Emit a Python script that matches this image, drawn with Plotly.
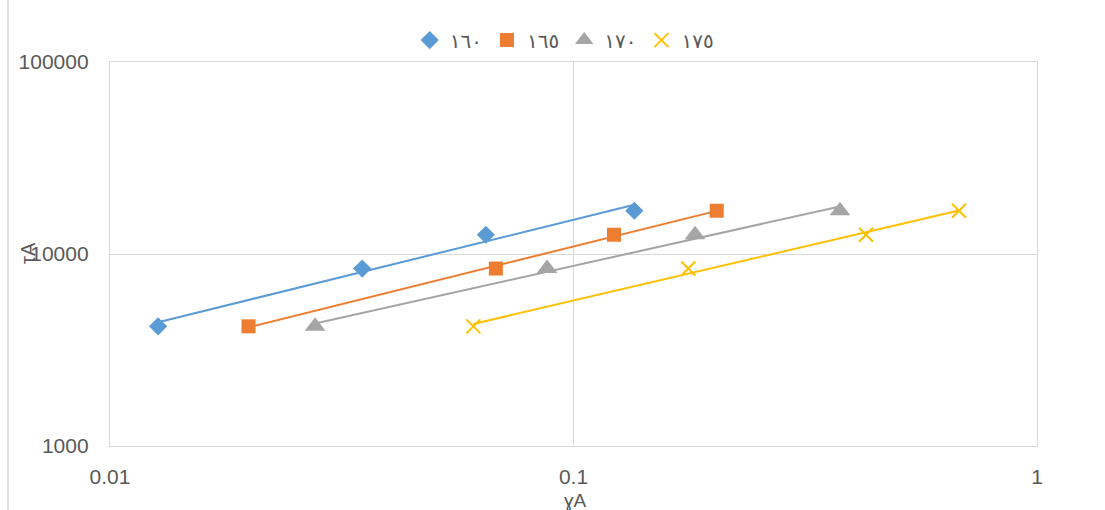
import numpy as np
import plotly.graph_objects as go

# Shear rate (γA) and shear stress (τA) for each temperature series
series_names = ["١٦٠", "١٦٥", "١٧٠", "١٧٥"]
tau_a = [4200, 8400, 12600, 16800]
gamma_160 = [0.0127, 0.0350, 0.0647, 0.1353]
gamma_165 = [0.0199, 0.0680, 0.1223, 0.2037]
gamma_170 = [0.0277, 0.0877, 0.1829, 0.3758]
gamma_175 = [0.0608, 0.1769, 0.4277, 0.6787]

x_ticks = [0.01, 0.1, 1]
x_tick_text = ["0.01", "0.1", "1"]
y_ticks = [1000, 10000, 100000]
y_tick_text = ["1000", "10000", "100000"]

colors = ["#5B9BD5", "#ED7D31", "#A5A5A5", "#FFC000"]
symbols = ["diamond", "square", "triangle-up", "x-thin-open"]
sizes = [14, 14, 18, 14]
gammas = [gamma_160, gamma_165, gamma_170, gamma_175]

fig = go.Figure()

for name, gx, col in zip(series_names, gammas, colors):
    # power-law trendline: straight fit in log-log space
    lx, ly = np.log10(gx), np.log10(tau_a)
    slope, icpt = np.polyfit(lx, ly, 1)
    xs = np.array([min(gx), max(gx)])
    ys = 10 ** (icpt + slope * np.log10(xs))
    fig.add_trace(go.Scatter(
        x=xs, y=ys, mode="lines", showlegend=False, hoverinfo="skip",
        line=dict(color=col, width=2),
    ))

for name, gx, col, sym, sz in zip(series_names, gammas, colors, symbols, sizes):
    marker = dict(symbol=sym, size=sz, color=col)
    if sym == "x-thin-open":
        marker["line"] = dict(color=col, width=2)
    fig.add_trace(go.Scatter(
        x=gx, y=tau_a, mode="markers", name=name, marker=marker,
    ))

font_col = "#595959"
fig.update_layout(
    width=1105, height=510,
    margin=dict(l=110, r=68, t=62, b=64),
    paper_bgcolor="white", plot_bgcolor="white",
    font=dict(family="DejaVu Sans, Liberation Sans", color=font_col, size=20),
    legend=dict(orientation="h", x=0.49, xanchor="center", y=1.057, yanchor="middle",
                font=dict(size=20, color=font_col), itemwidth=30, tracegroupgap=0,
                bgcolor="rgba(0,0,0,0)"),
    xaxis=dict(type="log", range=[-2, 0], tickvals=x_ticks, ticktext=x_tick_text,
               showgrid=True, gridcolor="#D9D9D9", gridwidth=1.3, zeroline=False,
               showline=True, linecolor="#D9D9D9", linewidth=1.3, mirror=True, ticks="",
               ticklabelstandoff=12,
               tickfont=dict(family="Liberation Sans", size=21, color=font_col)),
    yaxis=dict(type="log", range=[3, 5], tickvals=y_ticks, ticktext=y_tick_text,
               showgrid=True, gridcolor="#D9D9D9", gridwidth=1.3, zeroline=False,
               showline=True, linecolor="#D9D9D9", linewidth=1.3, mirror=True, ticks="",
               ticklabelstandoff=16,
               tickfont=dict(family="Liberation Sans", size=21, color=font_col)),
    annotations=[
        dict(text="ɣA", xref="paper", yref="paper", x=(575 - 110) / 927, y=-(500 - 446) / 384,
             showarrow=False, xanchor="center", yanchor="middle",
             font=dict(family="Liberation Sans", size=19, color=font_col)),
        dict(text="τA", xref="paper", yref="paper", x=(28 - 110) / 927, y=(446 - 253) / 384,
             showarrow=False, xanchor="center", yanchor="middle", textangle=-90,
             font=dict(family="Liberation Sans", size=20, color=font_col)),
    ],
    shapes=[
        dict(type="line", xref="paper", yref="paper", x0=(8 - 110) / 927, x1=(8 - 110) / 927,
             y0=-(510 - 446) / 384, y1=(446 + 2) / 384, line=dict(color="#D9D9D9", width=1.5)),
    ],
)

fig.write_html("out.html")
